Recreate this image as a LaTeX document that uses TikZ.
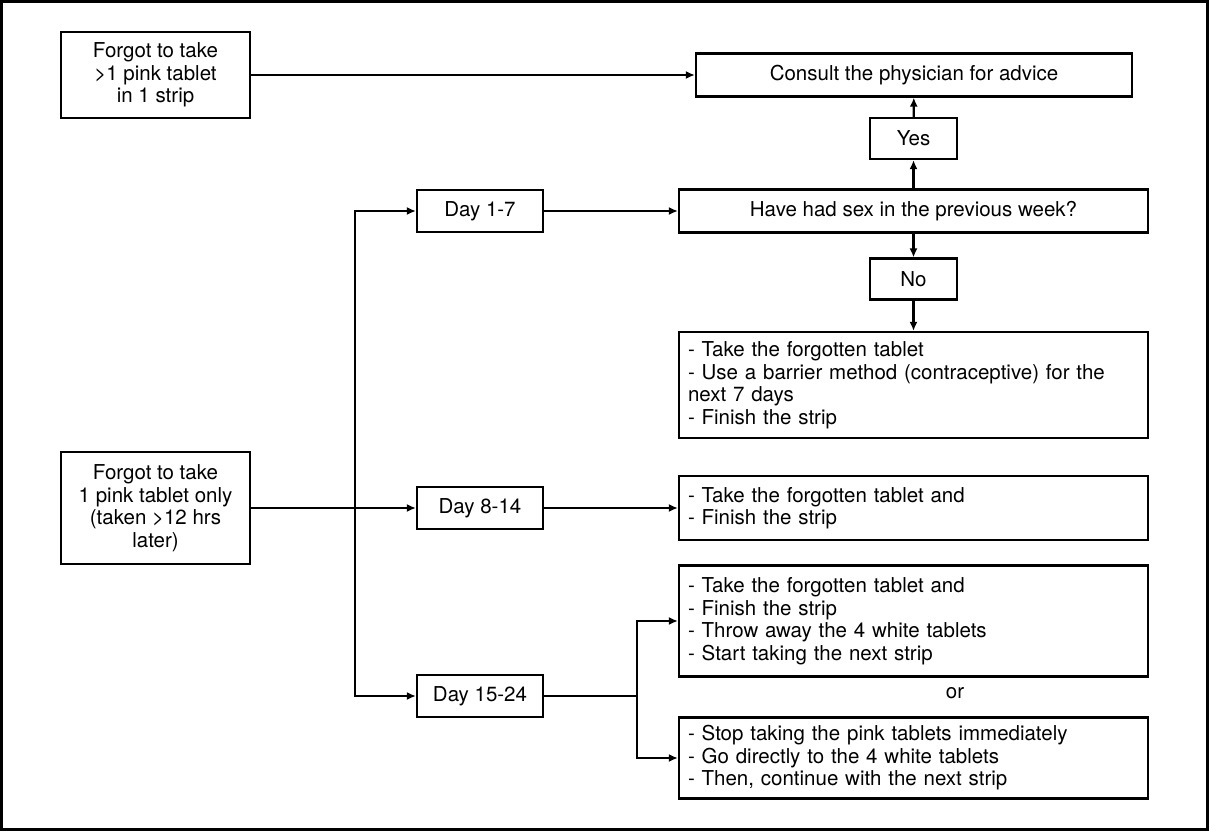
\documentclass[tikz,border=0pt]{standalone}
\usepackage{fontspec}
\setmainfont{TeX Gyre Heros}
\usetikzlibrary{arrows.meta}
\begin{document}
\begin{tikzpicture}[x = 1pt, y = -1pt, line width = 2.2pt, >={Latex[length=9pt,width=8pt]},
	font = \fontsize{20.5}{22.5}\selectfont,
	flowbox/.style = {draw, inner sep = 0pt, align = center},
	listbox/.style = {draw, inner xsep = 9pt, inner ysep = 0pt, text width = 451pt, align = left, minimum height = #1},
	daybox/.style = {flowbox, minimum width = 126pt, minimum height = 42pt},
	ansbox/.style = {flowbox, minimum width = 87pt, minimum height = 41pt}]
	\useasboundingbox (0,0) rectangle (1209,831);
	\draw [line width = 3pt] (1.5,1.5) rectangle (1207.5,829.5);
	\node [flowbox, minimum width = 189pt, minimum height = 86pt] (forgotmany) at (155.5,75) {Forgot to take\\>1 pink tablet\\in 1 strip};
	\node [flowbox, minimum width = 189pt, minimum height = 112pt] (forgotone) at (155.5,508) {Forgot to take\\1 pink tablet only\\(taken >12 hrs\\later)};
	\node [flowbox, minimum width = 436pt, minimum height = 43pt] (consult) at (914,75) {Consult the physician for advice};
	\node [ansbox] (yes) at (913.5,138.5) {Yes};
	\node [flowbox, minimum width = 469pt, minimum height = 43pt] (sex) at (913.5,211) {Have had sex in the previous week?};
	\node [ansbox] (no) at (913.5,279) {No};
	\node [listbox = 106pt] (nextweek) at (913.5,385) {- Take the forgotten tablet\\- Use a barrier method (contraceptive) for the\\next 7 days\\- Finish the strip};
	\node [daybox] (day17) at (480,211) {Day 1-7};
	\node [daybox] (day814) at (480,508) {Day 8-14};
	\node [daybox] (day1524) at (480,696) {Day 15-24};
	\node [listbox = 64pt] (finish) at (913.5,508) {- Take the forgotten tablet and\\- Finish the strip};
	\node [listbox = 111pt] (swap) at (913.5,621) {- Take the forgotten tablet and\\- Finish the strip\\- Throw away the 4 white tablets\\- Start taking the next strip};
	\node (or) at (955,693) {or};
	\node [listbox = 81pt] (stop) at (913.5,758) {- Stop taking the pink tablets immediately\\- Go directly to the 4 white tablets\\- Then, continue with the next strip};
	\coordinate (trunk) at (355,696);
	\coordinate (split) at (637,696);
	\draw [->] (forgotmany.east) -- (forgotmany.east -| consult.west);
	\draw [->] (sex) -- (yes);
	\draw [->] (yes) -- (consult);
	\draw [->] (sex) -- (no);
	\draw [->] (no) -- (nextweek);
	\draw [->] (forgotone) -- (day814);
	\draw [<->] (day17.west) -| (trunk) -- (day1524.west);
	\draw [->] (day17) -- (sex);
	\draw [->] (day814) -- (finish);
	\draw (day1524.east) -- (split);
	\draw [->] (split) |- (swap.west);
	\draw [->] (split) |- (stop.west);
\end{tikzpicture}
\end{document}
